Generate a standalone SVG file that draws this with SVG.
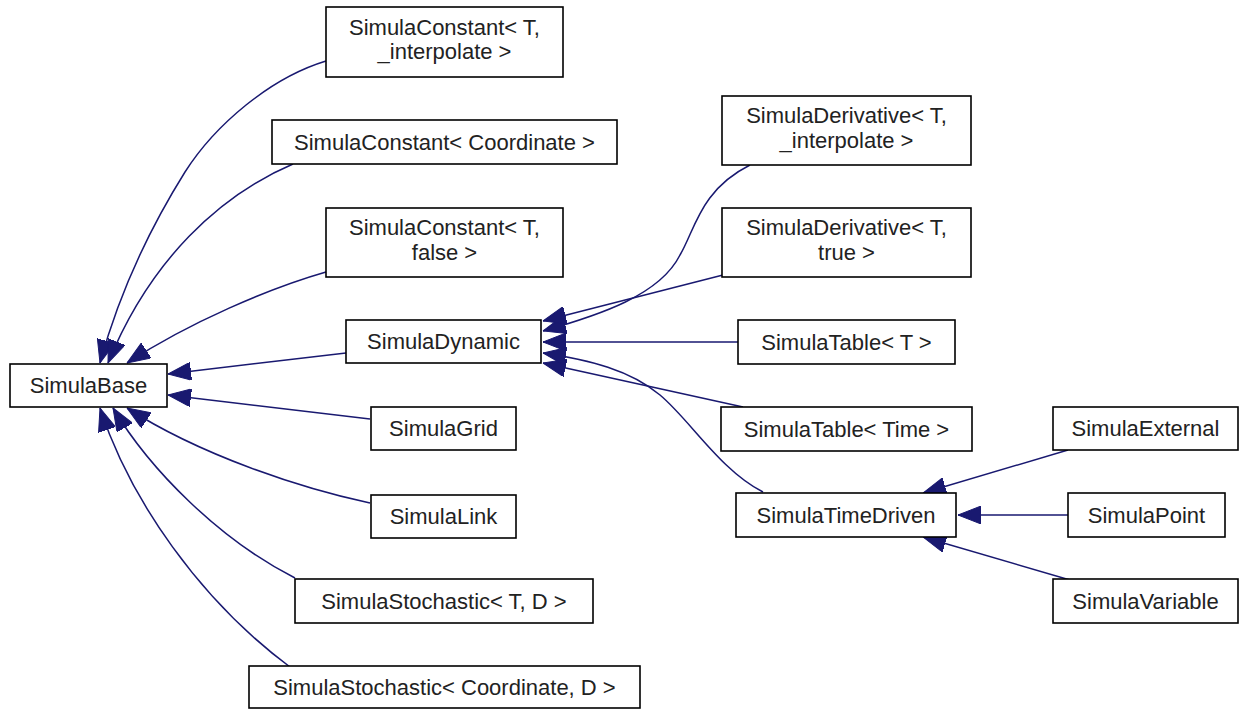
<svg xmlns="http://www.w3.org/2000/svg" width="1239" height="709" viewBox="0 0 1239 709">
<style>
.n rect{fill:#fff;stroke:#000;stroke-width:1.6}
.n text{font-family:"Liberation Sans",Arial,sans-serif;font-size:22px;fill:#222;text-anchor:middle}
.e path{fill:none;stroke:#191970;stroke-width:1.5;marker-end:url(#ah)}
</style>
<defs>
<marker id="ah" markerUnits="userSpaceOnUse" viewBox="0 0 23 18" refX="23" refY="9" markerWidth="23" markerHeight="18" orient="auto">
<path d="M0,0 L23,9 L0,18 z" fill="#191970" stroke="#191970" stroke-width="1"/>
</marker>
</defs>
<rect width="1239" height="709" fill="#fff"/>
<g id="connectors" class="e">
<path d="M326,61 C270,78 215,125 185,172 C150,228 120,290 100,363"/>
<path d="M293,164 C220,195 150,260 108,363"/>
<path d="M326,272 C270,288 190,322 127,363"/>
<path d="M346,353 L168,374"/>
<path d="M370,419 L168,395"/>
<path d="M370,503 C300,488 200,455 127,408"/>
<path d="M295,578 C220,540 150,470 113,408"/>
<path d="M290,667 C200,600 130,500 100,408"/>
<path d="M750,165 C700,190 695,230 680,255 C660,295 600,315 543,331"/>
<path d="M723,275 L543,321"/>
<path d="M738,342 L543,342"/>
<path d="M743,407 L543,363"/>
<path d="M763,492 C720,470 690,420 660,395 C630,370 590,360 543,353"/>
<path d="M1068,450 L923,493"/>
<path d="M1068,515 L958,515"/>
<path d="M1070,580 L923,537"/>
</g>
<g id="SimulaBase" class="n"><rect x="10" y="364" width="157" height="43"/><text x="88.5" y="393">SimulaBase</text></g>
<g id="SimulaConstantTInterp" class="n"><rect x="326" y="7" width="237" height="70"/><text x="444.5" y="35">SimulaConstant&lt; T,</text><text x="444.5" y="59">_interpolate &gt;</text></g>
<g id="SimulaConstantCoord" class="n"><rect x="272" y="120" width="345" height="44"/><text x="444.5" y="150">SimulaConstant&lt; Coordinate &gt;</text></g>
<g id="SimulaConstantTFalse" class="n"><rect x="326" y="208" width="237" height="69"/><text x="444.5" y="235">SimulaConstant&lt; T,</text><text x="444.5" y="260">false &gt;</text></g>
<g id="SimulaDynamic" class="n"><rect x="346" y="320" width="195" height="43"/><text x="443.5" y="349">SimulaDynamic</text></g>
<g id="SimulaGrid" class="n"><rect x="371" y="407" width="145" height="43"/><text x="443.5" y="436">SimulaGrid</text></g>
<g id="SimulaLink" class="n"><rect x="371" y="495" width="145" height="43"/><text x="443.5" y="524">SimulaLink</text></g>
<g id="SimulaStochasticTD" class="n"><rect x="295" y="579" width="298" height="44"/><text x="444" y="609">SimulaStochastic&lt; T, D &gt;</text></g>
<g id="SimulaStochasticCoordD" class="n"><rect x="249" y="666" width="391" height="42"/><text x="444.5" y="695">SimulaStochastic&lt; Coordinate, D &gt;</text></g>
<g id="SimulaDerivativeTInterp" class="n"><rect x="722" y="96" width="249" height="69"/><text x="846.5" y="123">SimulaDerivative&lt; T,</text><text x="846.5" y="148">_interpolate &gt;</text></g>
<g id="SimulaDerivativeTTrue" class="n"><rect x="722" y="208" width="249" height="69"/><text x="846.5" y="235">SimulaDerivative&lt; T,</text><text x="846.5" y="260">true &gt;</text></g>
<g id="SimulaTableT" class="n"><rect x="738" y="320" width="217" height="44"/><text x="846.5" y="350">SimulaTable&lt; T &gt;</text></g>
<g id="SimulaTableTime" class="n"><rect x="721" y="407" width="251" height="44"/><text x="846.5" y="437">SimulaTable&lt; Time &gt;</text></g>
<g id="SimulaTimeDriven" class="n"><rect x="736" y="493" width="220" height="44"/><text x="846" y="523">SimulaTimeDriven</text></g>
<g id="SimulaExternal" class="n"><rect x="1053" y="407" width="185" height="43"/><text x="1145.5" y="436">SimulaExternal</text></g>
<g id="SimulaPoint" class="n"><rect x="1068" y="493" width="157" height="44"/><text x="1146.5" y="523">SimulaPoint</text></g>
<g id="SimulaVariable" class="n"><rect x="1053" y="579" width="185" height="44"/><text x="1145.5" y="609">SimulaVariable</text></g>
</svg>
